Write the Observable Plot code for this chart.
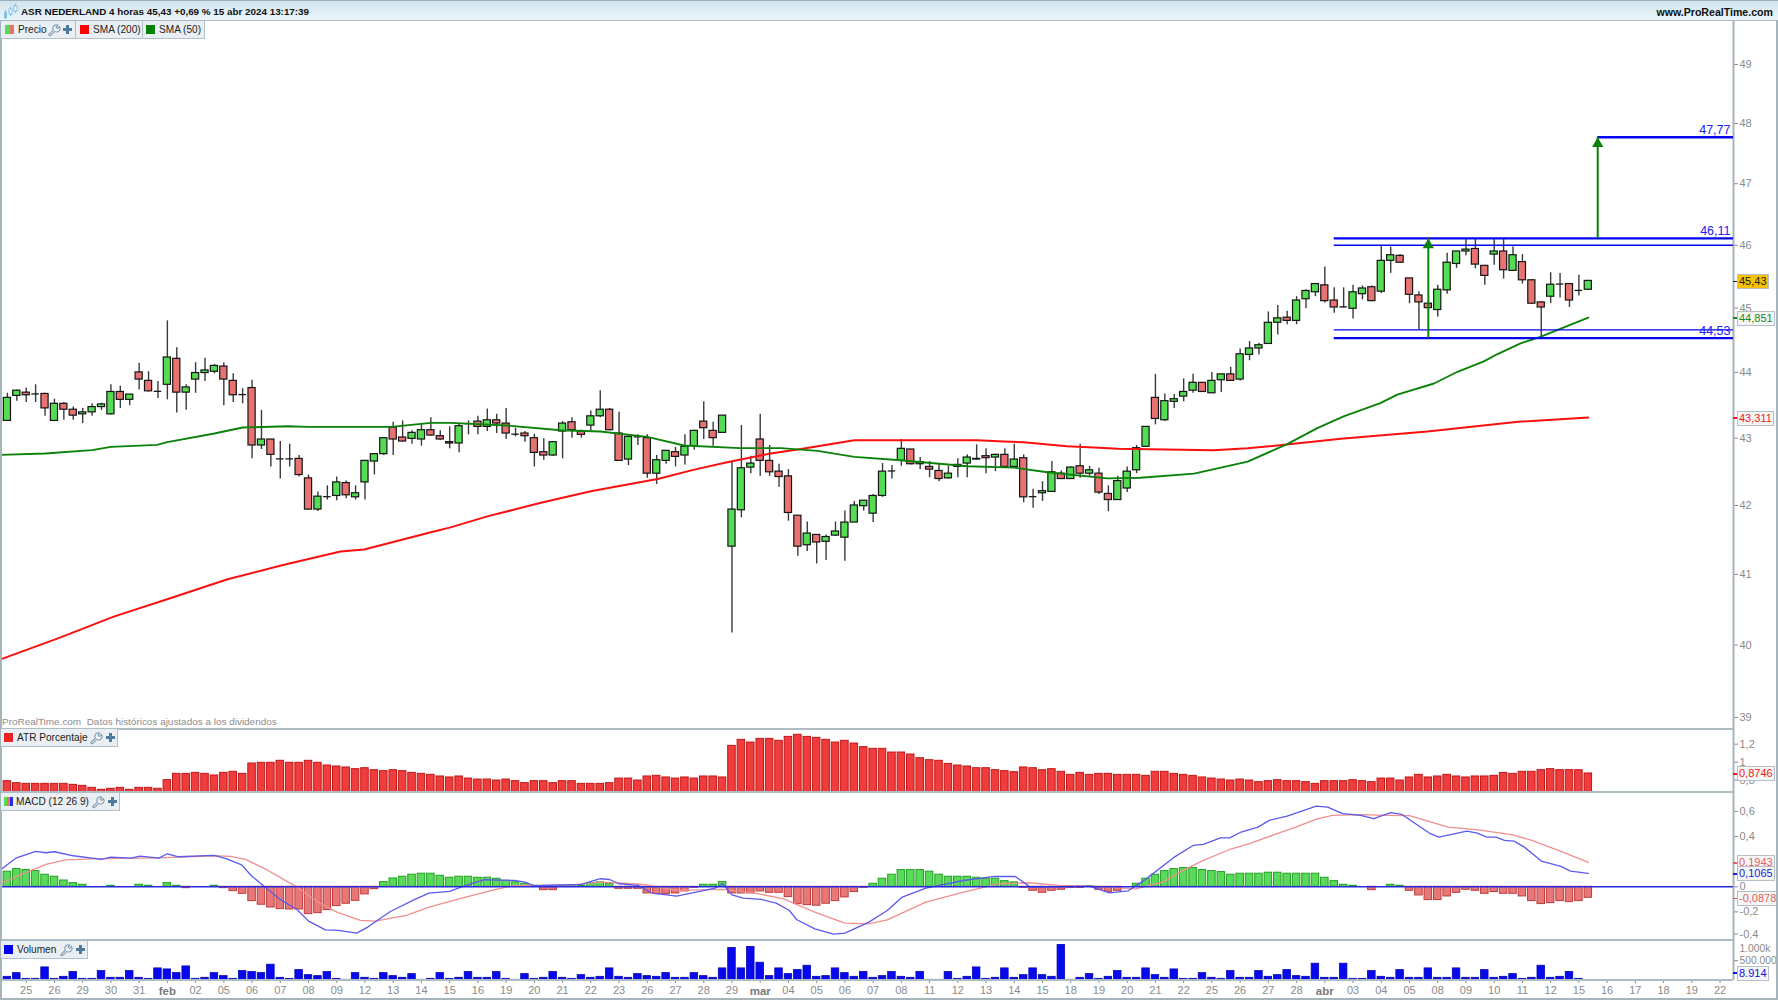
<!DOCTYPE html>
<html lang="es"><head><meta charset="utf-8">
<script src="https://cdn.jsdelivr.net/npm/d3@7"></script>
<script src="https://cdn.jsdelivr.net/npm/@observablehq/plot@0.6"></script>
<style>
html,body{margin:0;padding:0;background:#fff;overflow:hidden}
#page{position:relative;width:1778px;height:1000px;font-family:"Liberation Sans",Arial,sans-serif;overflow:hidden;background:#fff}
.hdr{position:absolute;left:0;top:0;width:1778px;height:19px;background:linear-gradient(#cfe3ed,#ecf5f9);border-top:1px solid #9fb0ba;border-bottom:1px solid #aab8c0;box-sizing:content-box}
.hdr b{position:absolute;top:5px;font-size:9.85px;color:#111;white-space:nowrap}
.sep{position:absolute;left:0;width:1733px;height:2px;background:#aebcc4}
.chip{position:absolute;height:17px;background:#e9eff3;border:1px solid #b4c0c8;border-top:0;border-left:0;box-sizing:content-box;font-size:10.1px;color:#222;line-height:17px;white-space:nowrap}
.chip i{position:absolute;top:4px;width:9px;height:9px;display:block}
.chip span{position:absolute;top:0}
.chip svg{position:absolute;top:2px}
.tag{position:absolute;left:1737px;height:13px;line-height:13px;padding:0 1px;font-size:11px;border:1.5px solid #b4bec6;background:#f6f6f6;white-space:nowrap;box-sizing:content-box}
.tk{position:absolute;left:1733px;width:4px;height:1.5px}
.wm{position:absolute;left:2px;top:716px;font-size:9.95px;color:#8c8c8c;white-space:nowrap}
.frame{position:absolute;background:#a6b4bc}
</style></head><body><div id="page"></div>
<script>
// ---- Candles (4-hour bars)
const opens=[43.26,43.64,43.69,43.67,43.67,43.26,43.52,43.43,43.36,43.39,
43.47,43.36,43.70,43.58,44.00,43.87,43.71,43.81,44.21,43.69,
43.89,43.99,44.01,44.09,43.87,43.66,43.76,42.89,42.98,42.69,
42.69,42.69,42.40,41.94,42.13,42.14,42.33,42.12,42.34,42.65,
42.76,43.16,43.01,42.99,42.98,43.12,43.03,42.94,42.92,43.22,
43.25,43.17,43.27,43.22,43.06,43.07,43.00,42.79,42.74,43.10,
43.24,43.10,43.19,43.33,43.43,43.07,42.68,43.02,43.00,42.47,
42.66,42.79,42.74,42.88,43.25,43.11,43.08,41.40,41.93,42.56,
42.98,42.66,42.50,42.43,41.85,41.42,41.57,41.47,41.56,41.53,
41.75,41.99,41.88,42.14,42.51,42.66,42.83,42.61,42.57,42.51,
42.40,42.57,42.62,42.68,42.73,42.71,42.75,42.57,42.70,42.13,
42.18,42.20,42.47,42.39,42.58,42.47,42.47,42.17,42.08,42.25,
42.52,42.87,43.61,43.27,43.55,43.63,43.72,43.84,43.68,43.88,
43.97,43.89,44.27,44.37,44.44,44.77,44.85,44.80,45.14,45.25,
45.36,45.12,45.02,44.99,45.22,45.33,45.26,45.75,45.83,45.47,
45.20,45.07,44.97,45.28,45.70,45.90,45.94,45.67,45.85,45.90,
45.59,45.73,45.44,45.09,45.18,45.38,45.38,45.28,45.29];
const highs=[43.68,43.73,43.76,43.81,43.68,43.59,43.54,43.47,43.45,43.52,
43.53,43.81,43.79,43.66,44.14,44.01,43.86,44.80,44.38,43.81,
44.15,44.22,44.12,44.15,43.98,43.75,43.88,43.42,42.98,42.95,
42.91,42.74,42.45,42.20,42.29,42.42,42.36,42.29,42.66,42.76,
43.00,43.24,43.26,43.11,43.22,43.31,43.11,43.17,43.22,43.26,
43.33,43.44,43.36,43.45,43.15,43.10,43.06,42.99,42.94,43.25,
43.31,43.12,43.41,43.72,43.45,43.39,43.03,43.05,43.05,42.74,
42.81,42.86,43.05,43.12,43.55,43.24,43.34,42.64,43.19,42.73,
43.36,42.89,42.61,42.53,41.85,41.76,41.57,41.57,41.76,41.92,
42.06,42.07,42.16,42.62,42.59,42.98,42.83,42.71,42.65,42.61,
42.58,42.69,42.75,42.90,42.84,42.76,42.84,42.91,42.75,42.24,
42.35,42.65,42.51,42.57,42.91,42.58,42.55,42.29,42.43,42.57,
42.89,43.17,43.97,43.67,43.66,43.90,43.97,43.84,44.00,43.97,
44.08,44.36,44.48,44.45,44.94,45.04,44.95,45.18,45.29,45.38,
45.65,45.32,45.32,45.36,45.35,45.35,45.99,45.97,45.85,45.47,
45.26,45.10,45.36,45.87,45.90,46.11,46.11,45.67,46.11,46.11,
45.97,45.85,45.44,45.10,45.56,45.55,45.38,45.52,45.44];
const lows=[43.25,43.56,43.54,43.54,43.33,43.25,43.27,43.27,43.22,43.33,
43.42,43.35,43.45,43.49,43.73,43.70,43.60,43.58,43.38,43.42,
43.68,43.86,43.98,43.49,43.54,43.52,42.69,42.83,42.57,42.39,
42.57,42.42,41.93,41.91,42.08,42.07,42.10,42.08,42.08,42.45,
42.74,42.74,42.94,42.91,42.88,43.03,42.97,42.84,42.78,43.05,
43.05,43.10,43.07,42.98,43.02,42.94,42.57,42.67,42.73,42.69,
43.00,43.00,43.09,43.31,43.11,42.66,42.59,42.89,42.40,42.31,
42.61,42.57,42.60,42.82,42.98,42.88,43.08,40.17,41.82,42.47,
42.43,42.43,42.27,41.77,41.26,41.33,41.15,41.20,41.55,41.19,
41.75,41.92,41.75,42.12,42.39,42.58,42.60,42.53,42.41,42.35,
42.39,42.41,42.41,42.67,42.47,42.50,42.56,42.56,42.04,41.96,
42.06,42.20,42.39,42.39,42.40,42.43,42.16,41.91,42.08,42.19,
42.47,42.87,43.20,43.25,43.45,43.55,43.68,43.70,43.68,43.69,
43.86,43.87,44.18,44.27,44.43,44.58,44.74,44.74,44.99,45.18,
45.08,44.92,45.00,44.83,45.13,45.11,45.23,45.55,45.71,45.07,
44.66,44.99,44.86,45.22,45.63,45.83,45.62,45.36,45.68,45.46,
45.58,45.38,45.06,44.55,45.07,45.16,45.01,45.19,45.28];
const closes=[43.61,43.72,43.65,43.67,43.45,43.52,43.43,43.34,43.39,43.47,
43.51,43.70,43.58,43.66,43.89,43.71,43.71,44.23,43.69,43.77,
43.99,44.03,44.10,43.89,43.65,43.66,42.89,42.98,42.75,42.69,
42.69,42.45,41.94,42.13,42.13,42.34,42.15,42.18,42.66,42.76,
43.00,42.98,42.95,43.08,43.12,43.04,42.98,42.92,43.18,43.22,
43.17,43.27,43.22,43.07,43.06,43.03,42.78,42.74,42.94,43.22,
43.12,43.05,43.33,43.43,43.12,42.66,43.02,43.02,42.47,42.67,
42.81,42.72,42.87,43.11,43.15,43.00,43.34,41.94,42.55,42.62,
42.66,42.49,42.42,41.89,41.40,41.59,41.46,41.54,41.62,41.75,
42.00,42.07,42.14,42.50,42.51,42.84,42.61,42.64,42.53,42.39,
42.47,42.60,42.71,42.69,42.70,42.75,42.57,42.68,42.12,42.13,
42.21,42.49,42.39,42.56,42.47,42.52,42.19,42.08,42.36,42.50,
42.85,43.17,43.29,43.56,43.59,43.70,43.84,43.70,43.87,43.97,
43.87,44.28,44.37,44.42,44.77,44.84,44.80,45.12,45.27,45.38,
45.11,45.01,45.02,45.25,45.31,45.11,45.75,45.84,45.72,45.21,
45.09,45.00,45.29,45.72,45.90,45.93,45.69,45.51,45.90,45.60,
45.84,45.44,45.07,45.01,45.37,45.38,45.12,45.28,45.43];

// ---- Moving averages, read at the candle index listed next to them
const sma50Bars=[-0.73,4,9,11,15.9,17,22,25,29.8,31.9,40.8,45,47.1,53.1,58.8,63,68,71.9,77.9,82.2,86.1,90,94.9,102,107,110.5,116.9,120.4,126.1,131.8,136,139.2,142,145.9,147.7,151.6,154.1,156.9,158.3,160.8,162.9,168];
const sma50=[42.75,42.77,42.82,42.87,42.90,42.94,43.07,43.16,43.18,43.17,43.17,43.23,43.23,43.19,43.12,43.10,43.02,42.89,42.85,42.85,42.81,42.72,42.67,42.58,42.56,42.49,42.40,42.41,42.47,42.65,42.91,43.15,43.33,43.53,43.66,43.83,44.01,44.17,44.28,44.45,44.55,44.851];
const sma200Bars=[-0.73,5.3,11.3,17.3,23.4,29.4,35.4,37.9,41.1,45,47.1,51,56.7,62,65.9,69.1,73,76.5,81.1,84,87.9,90,95,103.1,105.9,108,112.6,115.5,118,128.2,131.8,135.7,141.7,150.9,160.8,168];
const sma200=[39.80,40.09,40.40,40.66,40.93,41.14,41.33,41.36,41.47,41.61,41.68,41.84,42.04,42.21,42.31,42.39,42.53,42.64,42.77,42.83,42.92,42.97,42.97,42.97,42.95,42.94,42.88,42.86,42.84,42.82,42.85,42.90,42.99,43.10,43.25,43.311];

// ---- Drawn levels and arrows
const levelPrices=[46.11,46.00,44.66,44.53,47.77];
const levelFromBar=[141,141,141,141,169];
const levelWeights=[2.4,1.3,1.3,2.4,2.4];
const levelTexts=[46.11,47.77,44.53];
const arrowBars=[151,169];
const arrowFrom=[44.53,46.11];
const arrowTo=[46.11,47.77];
const priceTicks=[39,40,41,42,43,44,45,46,47,48,49];

// ---- ATR %
const atr=[.789,.767,.759,.759,.759,.759,.759,.748,.737,.715,.693,.704,.715,.693,.715,.715,.704,.800,.870,.870,
.881,.870,.852,.881,.893,.870,.985,.993,.993,1.015,.993,.993,1.015,.993,.963,.952,.941,.922,.933,.911,
.900,.911,.900,.881,.870,.859,.841,.830,.841,.818,.807,.807,.796,.807,.789,.767,.789,.789,.767,.789,
.789,.759,.759,.759,.767,.818,.818,.796,.841,.848,.830,.818,.830,.818,.841,.841,.830,1.181,1.248,1.218,
1.259,1.259,1.237,1.281,1.304,1.281,1.270,1.248,1.218,1.237,1.207,1.167,1.148,1.148,1.107,1.107,1.085,1.044,1.022,1.015,
.981,.963,.952,.933,.933,.911,.900,.889,.941,.933,.911,.922,.893,.859,.881,.859,.870,.870,.859,.859,
.859,.848,.893,.893,.870,.859,.848,.830,.818,.807,.796,.807,.796,.778,.789,.800,.789,.789,.778,.759,
.789,.789,.789,.800,.789,.778,.818,.818,.796,.830,.859,.830,.841,.859,.841,.830,.841,.841,.848,.881,
.870,.893,.893,.911,.922,.911,.911,.911,.8746];
const atrFloor=0.663;

// ---- MACD histogram and lines
const macdHist=[.120,.141,.133,.125,.096,.080,.050,.029,.016,0,0,.008,0,0,.016,.008,0,.029,.008,-.011,
0,0,.008,-.011,-.035,-.056,-.114,-.143,-.165,-.178,-.181,-.181,-.218,-.210,-.186,-.154,-.135,-.112,-.061,-.019,
.037,.066,.080,.096,.104,.104,.088,.072,.080,.080,.072,.072,.064,.048,.035,.024,.008,-.027,-.027,.008,
.008,.008,.029,.035,.024,-.016,-.016,-.016,-.053,-.058,-.058,-.053,-.037,-.008,.016,.016,.037,-.053,-.053,-.053,
-.037,-.048,-.048,-.082,-.138,-.146,-.151,-.135,-.114,-.085,-.042,-.008,.024,.064,.096,.133,.133,.133,.120,.096,
.080,.080,.080,.072,.064,.064,.045,.035,-.008,-.032,-.048,-.032,-.024,-.008,-.008,.005,-.024,-.040,-.032,0,
.024,.064,.096,.125,.141,.149,.149,.133,.125,.117,.096,.104,.104,.104,.112,.112,.104,.104,.104,.104,
.072,.045,.016,.008,0,-.027,0,.016,.008,-.032,-.069,-.106,-.106,-.077,-.048,-.024,-.032,-.056,-.042,-.056,
-.056,-.077,-.114,-.138,-.130,-.114,-.122,-.114,-.0878];
const macdBars=[-0.73,.9,3,4.1,5,7,10,11,13.1,14.1,16.1,17,18.2,22,23.3,24.9,25.9,27.3,28.9,30.8,32,33.8,35.2,37.1,38.3,40.7,43.2,44.8,47,48.7,50.7,53.9,55,56,61,63,64,65,67,68.5,71.1,72.8,75.2,76,77,78.2,80.1,81.7,83.1,83.9,85.8,87.8,89,91.5,93.5,95.1,97.6,101.6,104.9,107.1,108.7,115,117.1,119.1,120.7,124,126,127.1,128.9,129.9,131.1,132.9,134.1,136,139.1,140.3,141.9,143.8,145.2,147,148.2,151.1,152.1,155.1,156.2,157.2,158.2,159.1,160.1,161.2,163,165.1,166.1,168];
const macdLine=[.135,.228,.282,.271,.279,.247,.218,.236,.228,.244,.228,.263,.239,.250,.223,.175,.090,.003,-.096,-.183,-.274,-.343,-.348,-.369,-.321,-.197,-.104,-.050,-.037,.011,.056,.050,.037,.008,.019,.064,.058,.024,.011,-.050,-.074,-.048,-.011,.024,-.064,-.090,-.101,-.130,-.189,-.263,-.335,-.377,-.369,-.284,-.189,-.082,-.011,.050,.082,.082,-.003,.005,-.048,-.032,.045,.236,.329,.337,.390,.390,.436,.475,.529,.563,.643,.635,.582,.568,.542,.590,.576,.428,.396,.444,.428,.396,.396,.369,.364,.316,.205,.162,.125,.1065];
const signalBars=[-0.73,1.7,4.1,6.2,9,16.1,22,23.7,25.3,27.7,30.6,33,35,37.5,39.1,42.4,44.8,48,51.7,53.9,56.2,60.2,63,65.4,67.9,71.1,76,79.3,82.5,85.8,89,91.5,93.5,97.6,101.6,105.3,108.5,111.8,115,119.9,122.8,124.7,127.1,129.9,132,134.4,136.9,139.1,140.8,143.8,146.6,149,153.1,156.3,160,162,165.3,168];
const signalLine=[.024,.104,.178,.215,.223,.231,.247,.242,.218,.130,.005,-.122,-.202,-.268,-.274,-.228,-.162,-.096,-.024,.011,.011,.016,.037,.029,.016,-.029,-.021,-.048,-.096,-.202,-.290,-.295,-.263,-.122,-.042,.024,.032,.011,.005,-.016,.037,.122,.210,.297,.343,.409,.475,.539,.568,.574,.568,.566,.475,.454,.414,.369,.276,.1943];
const macdTicks=[.6,.4,0,-.2];

// ---- Volume (thousands)
const volume=[93,186,42,42,330,42,93,212,42,42,237,68,68,237,68,42,305,279,186,355,
42,68,186,110,42,237,212,186,398,68,42,262,135,110,212,42,17,186,68,42,
186,110,68,161,17,42,186,42,68,212,68,68,212,42,17,161,42,68,212,68,
42,135,68,93,305,93,68,161,110,93,186,68,68,186,110,68,305,821,305,846,
448,110,305,161,262,372,93,110,305,186,93,212,68,110,212,93,68,212,17,17,
212,42,93,330,42,68,305,68,135,305,135,93,897,17,68,161,42,93,237,68,
68,305,135,68,279,42,42,186,68,42,237,68,68,237,93,135,262,110,93,423,
68,68,423,42,42,237,93,68,262,68,68,305,68,68,305,68,68,262,68,93,
161,42,68,372,68,93,212,42,8.914];

// ---- Date axis
const dayLabels=["25","26","29","30","31","feb","02","05","06","07","08","09","12","13","14","15","16","19","20","21","22","23","26","27","28","29","mar","04","05","06","07","08","11","12","13","14","15","18","19","20","21","22","25","26","27","28","abr","03","04","05","08","09","10","11","12","15","16","17","18","19","22"];
const firstDayBar=2, barsPerDay=3;

// ---- Geometry of the terminal layout
const W=1778, axisX=1733, xMin=-0.733, xMax=183.43;
const GREY="#8a8a8a", AXIS="#a6b4bc";
const FONT='"Liberation Sans",Arial,sans-serif';
const comma=f=>d=>d3.format(f)(d).replace(".",",").replace("−","-");

const candles=opens.map((o,i)=>({i,o,h:highs[i],l:lows[i],c:closes[i]}));
const xOpt={domain:[xMin,xMax],range:[0,axisX],axis:null};
const page=document.getElementById("page");
const pts=(xs,ys)=>xs.map((x,k)=>({x,y:ys[k]}));
const bars=(arr)=>arr.map((v,i)=>({i,v}));

function mount(plot,top){plot.style.position="absolute";plot.style.left="0";plot.style.top=top+"px";plot.style.overflow="visible";page.appendChild(plot);return plot;}
function yAxis(ticks,fmt,extra={}){
  return Plot.axisY({anchor:"right",ticks,tickFormat:fmt,tickSize:4,tickPadding:2,stroke:GREY,fill:GREY,fontSize:11,label:null,...extra});
}
const axisRule=()=>Plot.ruleX([xMax],{stroke:AXIS,strokeWidth:2});

// Price panel
const bodies=candles.filter(d=>d.o!==d.c);
const dojis=candles.filter(d=>d.o===d.c);
const levels=levelPrices.map((y,k)=>({y,x1:levelFromBar[k],w:levelWeights[k]}));
const arrows=arrowBars.map((i,k)=>({i,from:arrowFrom[k],to:arrowTo[k]}));
const price=mount(Plot.plot({
  width:W,height:708,marginLeft:0,marginRight:45,marginTop:0,marginBottom:0,
  style:{fontFamily:FONT,background:"transparent"},
  x:xOpt,
  y:{type:"log",domain:[38.85,49.76],label:null},
  marks:[
    yAxis(priceTicks,d3.format("d")),
    axisRule(),
    Plot.ruleX(candles,{x:"i",y1:"l",y2:"h",stroke:"#3a3a3a",strokeWidth:1.4}),
    Plot.rect(bodies,{x1:d=>d.i-.38,x2:d=>d.i+.38,y1:"o",y2:"c",
      fill:d=>d.c>d.o?"#54dc54":"#e87272",stroke:"#141414",strokeWidth:1.2}),
    Plot.ruleY(dojis,{y:"c",x1:d=>d.i-.4,x2:d=>d.i+.4,stroke:"#1a1a1a",strokeWidth:1.3}),
    Plot.line(pts(sma200Bars,sma200),{x:"x",y:"y",stroke:"#fa0f0f",strokeWidth:2}),
    Plot.line(pts(sma50Bars,sma50),{x:"x",y:"y",stroke:"#0a820a",strokeWidth:1.9}),
    Plot.ruleY(levels,{y:"y",x1:"x1",x2:()=>xMax,stroke:"#0505f0",strokeWidth:"w"}),
    Plot.ruleX(arrows,{x:"i",y1:"from",y2:"to",stroke:"#0a820a",strokeWidth:2}),
    Plot.dot(arrows,{x:"i",y:"to",symbol:"triangle",r:4.2,fill:"#0a820a",dy:6.5}),
    Plot.text(levelTexts,{x:()=>xMax,y:d=>d,text:comma(".2f"),dx:-3,dy:-7,textAnchor:"end",fill:"#2020f0",fontSize:12.5})
  ]
}),20);

// ATR panel
const atrPlot=mount(Plot.plot({
  width:W,height:64,marginLeft:0,marginRight:45,marginTop:0,marginBottom:0,
  style:{fontFamily:FONT,background:"transparent"},
  x:xOpt,
  y:{domain:[atrFloor,1.374],label:null},
  marks:[
    yAxis([.8,1,1.2],comma(".1~f")),
    axisRule(),
    Plot.rect(bars(atr),{x1:d=>d.i-.4,x2:d=>d.i+.4,y1:()=>atrFloor,y2:"v",fill:"#f03c3c",stroke:"#c01818",strokeWidth:1})
  ]
}),728);

// MACD panel
const histBars=bars(macdHist).filter(d=>d.v!==0);
const macdPlot=mount(Plot.plot({
  width:W,height:148,marginLeft:0,marginRight:45,marginTop:0,marginBottom:0,
  style:{fontFamily:FONT,background:"transparent"},
  x:xOpt,
  y:{domain:[-.428,.751],label:null},
  marks:[
    yAxis(macdTicks,comma(".1~f")),
    yAxis([-.4],comma(".1f"),{dy:-3}),
    axisRule(),
    Plot.rect(histBars,{x1:d=>d.i-.4,x2:d=>d.i+.4,y1:()=>0,y2:"v",
      fill:d=>d.v>0?"#5ada5a":"#e87878",stroke:d=>d.v>0?"#22a022":"#c03a3a",strokeWidth:1}),
    Plot.line(pts(signalBars,signalLine),{x:"x",y:"y",stroke:"#ef8f8f",strokeWidth:1.3}),
    Plot.line(pts(macdBars,macdLine),{x:"x",y:"y",stroke:"#5a5aee",strokeWidth:1.3}),
    Plot.ruleY([0],{x1:()=>xMin,x2:()=>xMax,stroke:"#2a2ae0",strokeWidth:1.5})
  ]
}),792);

// Volume panel + date axis
const tickBars=dayLabels.map((_,k)=>firstDayBar+k*barsPerDay);
const labelAt=new Map(tickBars.map((b,k)=>[b,dayLabels[k]]));
const isMonth=b=>/[a-z]/.test(labelAt.get(b));
const volPlot=mount(Plot.plot({
  width:W,height:60,marginLeft:0,marginRight:45,marginTop:0,marginBottom:20,
  style:{fontFamily:FONT,background:"transparent"},
  x:{...xOpt,axis:null},
  y:{domain:[0,1008],label:null},
  marks:[
    Plot.axisX({ticks:tickBars.filter(b=>!isMonth(b)),tickFormat:b=>labelAt.get(b),tickSize:3,tickPadding:3,stroke:GREY,fill:GREY,fontSize:11,label:null,anchor:"bottom"}),
    Plot.axisX({ticks:tickBars.filter(isMonth),tickFormat:b=>labelAt.get(b),tickSize:3,tickPadding:3,stroke:GREY,fill:"#7a7a7a",fontSize:11.5,fontWeight:"bold",label:null,anchor:"bottom"}),
    yAxis([500],()=>"500.000",{fontSize:10.3}),
    Plot.text([1000],{x:()=>xMax,y:d=>d,text:()=>"1.000k",dx:6,dy:8,textAnchor:"start",fill:GREY,fontSize:10.3}),
    axisRule(),
    Plot.rect(bars(volume),{x1:d=>d.i-.4,x2:d=>d.i+.4,y1:()=>0,y2:"v",fill:"#0808ee",stroke:"#0606b0",strokeWidth:.8})
  ]
}),940);

// Value tags read through each panel's own scale
function tag(plot,top,value,label,color,bg,shift=0){
  const y=plot.scale("y").apply(value)+top+shift;
  const t=document.createElement("div");t.className="tag";t.textContent=label;
  t.style.top=(y-6.5)+"px";t.style.color=color;if(bg)t.style.background=bg;
  page.appendChild(t);
  const k=document.createElement("div");k.className="tk";k.style.top=(y+.3)+"px";k.style.background=color;page.appendChild(k);
}
tag(price,20,45.43,"45,43","#222","#f6c200");
tag(price,20,44.851,"44,851","#1a8a1a");
tag(price,20,43.311,"43,311","#f01818");
tag(atrPlot,728,.8746,"0,8746","#f01818");
tag(macdPlot,792,.1943,"0,1943","#e06060");
tag(macdPlot,792,.1065,"0,1065","#2020e0");
tag(macdPlot,792,-.0878,"-0,0878","#e06060");
tag(volPlot,940,8.914,"8.914","#1010e0","#f6f6f6",-7.5);

// Chrome: header, separators, legend chips
const wrench='<svg width="14" height="14" viewBox="0 0 13 13"><path d="M1.5 11 L6 6.5 A3.2 3.2 0 0 1 10.2 2 L8.4 3.8 L9.8 5.2 L11.6 3.4 A3.2 3.2 0 0 1 7.2 7.8 L3 12 Z" fill="#f2f6f9" stroke="#7f9ab0" stroke-width="1"/></svg>';
const plus='<svg width="11" height="13" viewBox="0 0 11 11"><path d="M4 1h3v3h3v3H7v3H4V7H1V4h3z" fill="#4f7a9a"/></svg>';
function chip(left,top,width,parts){
  const c=document.createElement("div");c.className="chip";
  c.style.left=left+"px";c.style.top=top+"px";c.style.width=width+"px";c.innerHTML=parts;page.appendChild(c);
}
const sq=(l,col)=>`<i style="left:${l}px;background:${col}"></i>`;
const at=(l,html)=>`<span style="left:${l}px">${html}</span>`;
const svgAt=(l,html)=>html.replace("<svg ",`<svg style="left:${l}px" `);
function html(cls,style,text){const d=document.createElement("div");d.className=cls;d.style.cssText=style;d.innerHTML=text||"";page.appendChild(d);}

html("hdr","",'<svg style="position:absolute;left:3px;top:2px" width="15" height="16" viewBox="0 0 15 16"><path d="M2.5 7v9M7.5 4v9M12.5 1v9" stroke="#7cc0ea"/><rect x="1" y="9" width="3" height="6" fill="#7cc0ea"/><rect x="6" y="6" width="3" height="5" fill="#fff" stroke="#7cc0ea"/><rect x="11" y="3" width="3" height="5" fill="#fff" stroke="#7cc0ea"/></svg><b style="left:21px">ASR NEDERLAND 4 horas 45,43 +0,69 % 15 abr 2024 13:17:39</b><b style="right:5px;font-size:10.6px">www.ProRealTime.com</b>');
[728,791,939,979].forEach(y=>html("sep",`top:${y}px`));
html("frame","left:0;top:20px;width:1.5px;height:980px");
html("frame","left:0;top:998px;width:1778px;height:2px");
html("frame","left:1776px;top:20px;width:2px;height:980px");
html("wm","","ProRealTime.com&nbsp; Datos históricos ajustados a los dividendos");

chip(1,21,74,`<i style="left:4px;background:linear-gradient(90deg,#54dc54 50%,#e87272 50%)"></i>`+at(17,"Precio")+svgAt(46,wrench)+svgAt(61,plus));
chip(76,21,66,sq(4,"#ff0000")+at(17,"SMA (200)"));
chip(143,21,61,sq(3,"#008000")+at(16,"SMA (50)"));
chip(1,729,116,sq(3,"#ee2222")+at(16,"ATR Porcentaje")+svgAt(88,wrench)+svgAt(104,plus));
chip(1,793,118,`<i style="left:3px;background:linear-gradient(90deg,#54dc54 33%,#e87272 33%,#e87272 66%,#2a2ae0 66%)"></i>`+at(15,"MACD (12 26 9)")+svgAt(90,wrench)+svgAt(106,plus));
chip(1,941,86,sq(3,"#0000ee")+at(16,"Volumen")+svgAt(58,wrench)+svgAt(74,plus));
</script></body></html>
